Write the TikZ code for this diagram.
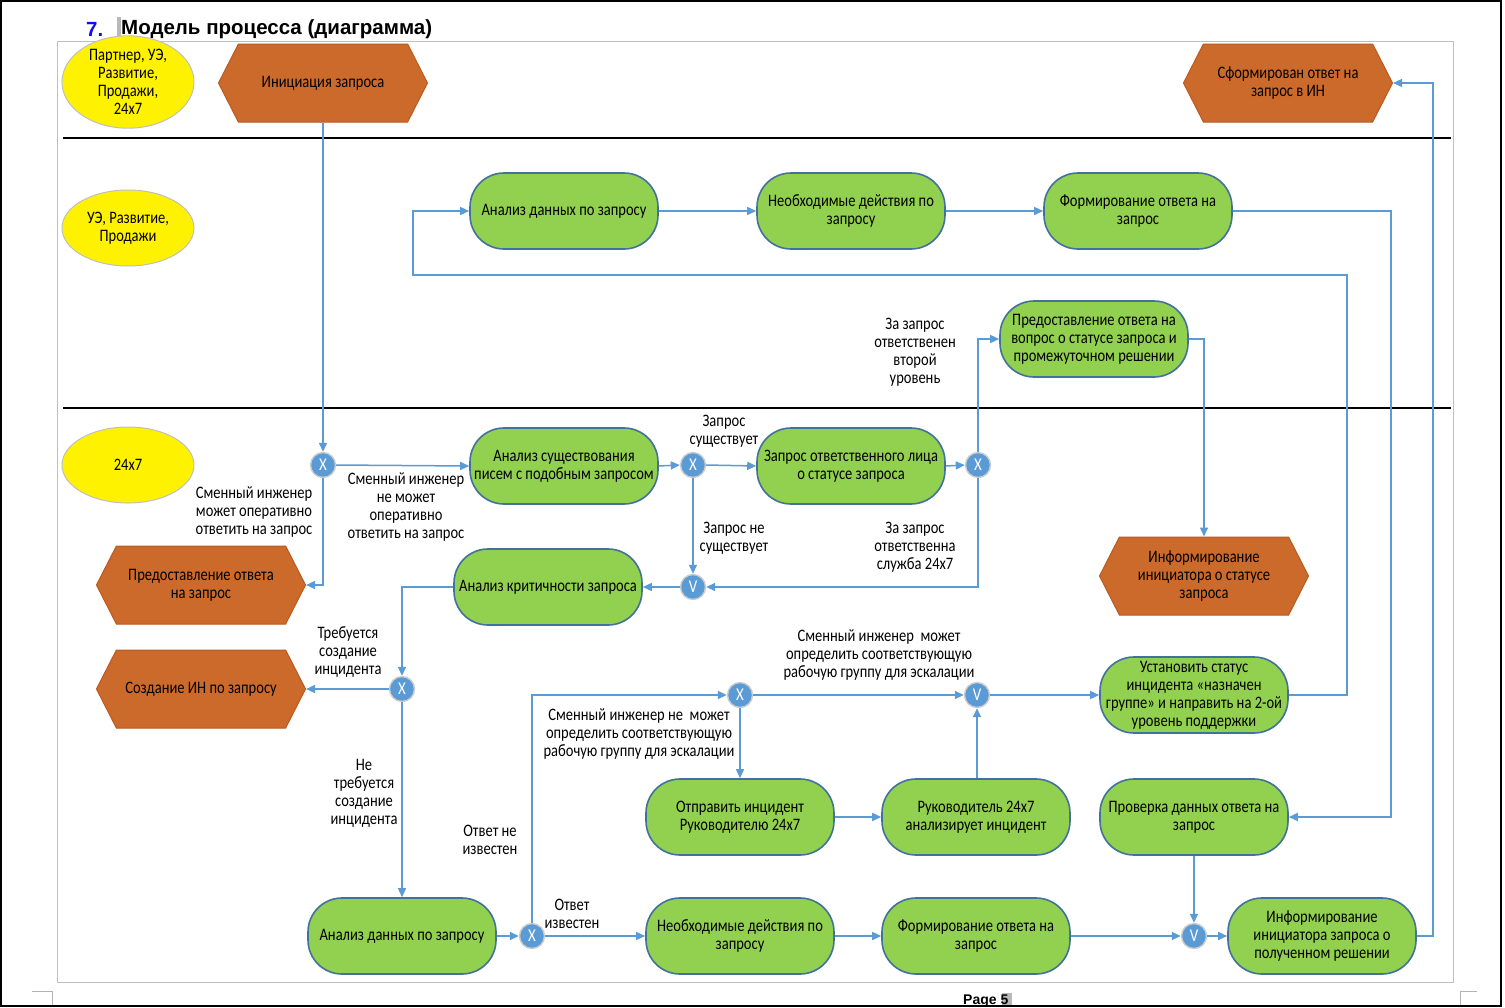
\documentclass[tikz,border=0pt]{standalone}
\usepackage{fontspec}
\setmainfont[FakeStretch=0.83]{Carlito}
\newfontfamily\titlefont{Liberation Sans}
\usetikzlibrary{shapes.symbols,shapes.geometric,arrows.meta}
\definecolor{lineblue}{HTML}{5B9BD5}
\definecolor{greenfill}{HTML}{92D050}
\definecolor{greenborder}{HTML}{41719C}
\definecolor{orangefill}{HTML}{CC6A2C}
\definecolor{orangeborder}{HTML}{B85A20}
\definecolor{gwfill}{HTML}{5B9BD5}
\definecolor{titleblue}{HTML}{1010E8}
\tikzset{
  txt/.style={font=\fontsize{17.5}{18}\selectfont, align=center, text=black},
  task/.style={txt, draw=greenborder, line width=1.6pt, fill=greenfill, rounded corners=34pt,
    minimum width=188pt, minimum height=76pt, inner sep=1pt},
  hexa/.style={txt, shape=signal, signal to=east and west, signal pointer angle=126,
    draw=orangeborder, line width=1pt, fill=orangefill, minimum width=209pt, minimum height=78pt, inner sep=1pt},
  gw/.style={circle, fill=gwfill, draw=gray!40, line width=1.4pt, minimum size=25pt, inner sep=0pt,
    text=white, font=\fontsize{18}{18}\selectfont},
  lane/.style={txt, ellipse, fill=yellow, draw=gray!50, line width=1pt, minimum width=132pt,
    minimum height=76pt, inner sep=0pt},
  lbl/.style={txt},
  conn/.style={draw=lineblue, line width=1.5pt, -{Triangle[length=9pt,width=8pt]}},
}
\begin{document}
\begin{tikzpicture}[x=1pt,y=-1pt]
\useasboundingbox (0,0) rectangle (1505,1007);
% page frame
\draw[gray!50, line width=1pt] (57,41.5) rectangle (1453,982);
\draw[gray!60, line width=0.8pt] (32,991) -- (52,991) -- (52,1007);
\draw[gray!60, line width=0.8pt] (1477,991) -- (1460,991) -- (1460,1007);
% title
\fill[gray!55] (117,17) rectangle (121,40);
\node[anchor=west, font=\titlefont\bfseries\fontsize{20.5}{21}\selectfont, text=titleblue, inner sep=0pt] (tnum) at (86,29) {7.};
\node[anchor=west, font=\titlefont\bfseries\fontsize{20.5}{21}\selectfont, inner sep=0pt] (title) at (121,29) {Модель процесса (диаграмма)};
\fill[gray!55] (1002,993) rectangle (1012,1007);
\node[anchor=west, font=\titlefont\bfseries\fontsize{14}{14}\selectfont, inner sep=0pt] (page) at (963,1001) {Page 5};
% lanes
\draw[line width=1.6pt] (63,138) -- (1451,138);
\draw[line width=1.6pt] (63,408) -- (1451,408);
\node[lane] (l1) at (128,82) {Партнер, УЭ,\\Развитие,\\Продажи,\\24x7};
\node[lane] (l2) at (128,228) {УЭ, Развитие,\\Продажи};
\node[lane] (l3) at (128,465) {24x7};
% hexagons
\node[hexa] (h1) at (323,83) {Инициация запроса};
\node[hexa] (h2) at (1288,83) {Сформирован ответ на\\запрос в ИН};
\node[hexa] (h3) at (201,585) {Предоставление ответа\\на запрос};
\node[hexa] (h4) at (201,689) {Создание ИН по запросу};
\node[hexa] (h5) at (1204,576) {Информирование\\инициатора о статусе\\запроса};
% tasks
\node[task] (g1) at (564,211) {Анализ данных по запросу};
\node[task] (g2) at (851,211) {Необходимые действия по\\запросу};
\node[task] (g3) at (1138,211) {Формирование ответа на\\запрос};
\node[task] (g4) at (1094,339) {Предоставление ответа на\\вопрос о статусе запроса и\\промежуточном решении};
\node[task] (g5) at (564,466) {Анализ существования\\писем с подобным запросом};
\node[task] (g6) at (851,466) {Запрос ответственного лица\\о статусе запроса};
\node[task] (g7) at (548,587) {Анализ критичности запроса};
\node[task] (g8) at (1194,695) {Установить статус\\инцидента «назначен\\группе» и направить на 2-ой\\уровень поддержки};
\node[task] (g9) at (740,817) {Отправить инцидент\\Руководителю 24x7};
\node[task] (g10) at (976,817) {Руководитель 24x7\\анализирует инцидент};
\node[task] (g11) at (1194,817) {Проверка данных ответа на\\запрос};
\node[task] (g12) at (402,936) {Анализ данных по запросу};
\node[task] (g13) at (740,936) {Необходимые действия по\\запросу};
\node[task] (g14) at (976,936) {Формирование ответа на\\запрос};
\node[task] (g15) at (1322,936) {Информирование\\инициатора запроса о\\полученном решении};
% gateways
\node[gw] (x1) at (323,465) {X};
\node[gw] (x2) at (693,465) {X};
\node[gw] (x3) at (978,465) {X};
\node[gw] (v1) at (693,587) {V};
\node[gw] (x4) at (402,689) {X};
\node[gw] (x5) at (740,695) {X};
\node[gw] (v2) at (977,695) {V};
\node[gw] (x6) at (532,936) {X};
\node[gw] (v3) at (1194,936) {V};
% corner coordinates
\coordinate (c1) at (1347,275);
\coordinate (c2) at (413,275);
\coordinate (c3) at (1391,817);
\coordinate (c4) at (1433,83);
% connectors
\draw[conn] (h1.south) -- (x1.north);
\draw[conn] (x1.east) -- (g5.west);
\draw[conn] (x1.south) |- (h3.east);
\draw[conn] (g5.east) -- (x2.west);
\draw[conn] (x2.east) -- (g6.west);
\draw[conn] (x2.south) -- (v1.north);
\draw[conn] (g6.east) -- (x3.west);
\draw[conn] (x3.north) |- (g4.west);
\draw[conn] (x3.south) |- (v1.east);
\draw[conn] (v1.west) -- (g7.east);
\draw[conn] (g7.west) -| (x4.north);
\draw[conn] (x4.west) -- (h4.east);
\draw[conn] (x4.south) -- (g12.north);
\draw[conn] (g12.east) -- (x6.west);
\draw[conn] (x6.east) -- (g13.west);
\draw[conn] (x6.north) |- (x5.west);
\draw[conn] (x5.east) -- (v2.west);
\draw[conn] (x5.south) -- (g9.north);
\draw[conn] (g9.east) -- (g10.west);
\draw[conn] (v2.south |- g10.north) -- (v2.south);
\draw[conn] (v2.east) -- (g8.west);
\draw[conn] (g8.east) -| (c1) -- (c2) |- (g1.west);
\draw[conn] (g1.east) -- (g2.west);
\draw[conn] (g2.east) -- (g3.west);
\draw[conn] (g3.east) -| (c3) -- (g11.east);
\draw[conn] (g11.south) -- (v3.north);
\draw[conn] (g13.east) -- (g14.west);
\draw[conn] (g14.east) -- (v3.west);
\draw[conn] (v3.east) -- (g15.west);
\draw[conn] (g15.east) -| (c4) -- (h2.east);
\draw[conn] (g4.east) -| (h5.north);
% labels
\node[lbl] (t1) at (915,352) {За запрос\\ответственен\\второй\\уровень};
\node[lbl] (t2) at (724,431) {Запрос\\существует};
\node[lbl] (t3) at (254,512) {Сменный инженер\\может оперативно\\ответить на запрос};
\node[lbl] (t4) at (406,507) {Сменный инженер\\не может\\оперативно\\ответить на запрос};
\node[lbl] (t5) at (734,538) {Запрос не\\существует};
\node[lbl] (t6) at (915,547) {За запрос\\ответственна\\служба 24x7};
\node[lbl] (t7) at (348,652) {Требуется\\создание\\инцидента};
\node[lbl] (t8) at (879,655) {Сменный инженер\ \ может\\определить соответствующую\\рабочую группу для эскалации};
\node[lbl] (t9) at (639,734) {Сменный инженер не\ \ может\\определить соответствующую\\рабочую группу для эскалации};
\node[lbl] (t10) at (364,793) {Не\\требуется\\создание\\инцидента};
\node[lbl] (t11) at (490,840) {Ответ не\\известен};
\node[lbl] (t12) at (572,914) {Ответ\\известен};
% outer frame
\draw[black, line width=1.5pt] (0.75,0.75) rectangle (1501,1006.2);
\end{tikzpicture}
\end{document}
